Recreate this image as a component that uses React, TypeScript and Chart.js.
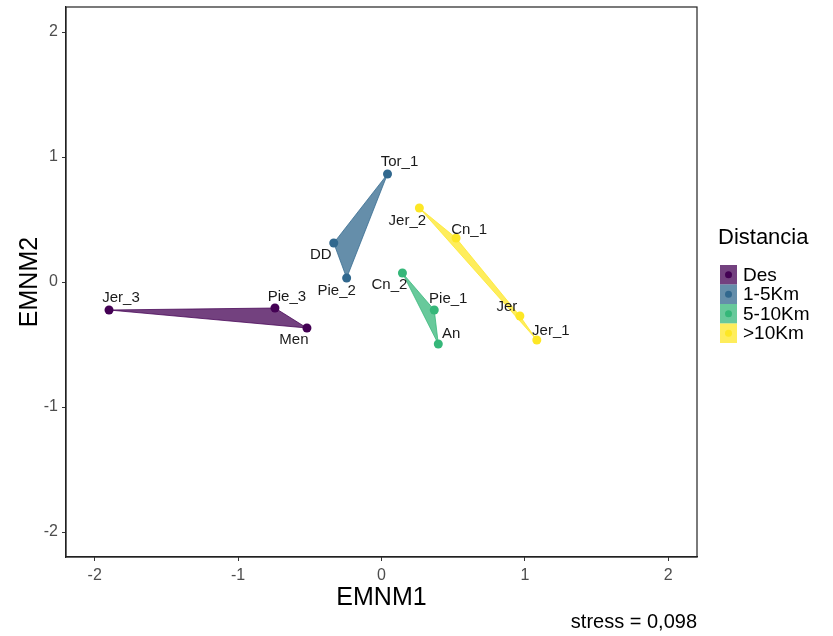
import React, { useEffect, useRef } from 'react';
import { Chart, registerables } from 'chart.js';

Chart.register(...registerables);

// ---- data ----
const groups = ['Des', '1-5Km', '5-10Km', '>10Km'];
const groupColors = ['#440154', '#31688E', '#35B779', '#FDE725'];

const desNames = ['Jer_3', 'Pie_3', 'Men'];
const desX = [-1.9, -0.743, -0.52];
const desY = [-0.224, -0.208, -0.368];

const km1Names = ['Tor_1', 'DD', 'Pie_2'];
const km1X = [0.042, -0.333, -0.243];
const km1Y = [0.864, 0.312, 0.032];

const km5Names = ['Cn_2', 'Pie_1', 'An'];
const km5X = [0.146, 0.368, 0.396];
const km5Y = [0.072, -0.224, -0.496];

const km10Names = ['Jer_2', 'Cn_1', 'Jer', 'Jer_1'];
const km10X = [0.264, 0.52, 0.965, 1.083];
const km10Y = [0.592, 0.352, -0.272, -0.464];

const xTicks = [-2, -1, 0, 1, 2];
const yTicks = [-2, -1, 0, 1, 2];
const xTitle = 'EMNM1';
const yTitle = 'EMNM2';
const legendTitle = 'Distancia';
const stressLabel = 'stress = 0,098';

// ---- style: label offsets in pixels (text centre relative to point) ----
const labelOffsets: Record<string, [number, number]> = {
  Jer_3: [12, -12],
  Pie_3: [12, -11],
  Men: [-13, 12],
  DD: [-13, 12],
  Pie_2: [-10, 13],
  Tor_1: [12, -12],
  Cn_2: [-13, 12],
  Pie_1: [14, -11],
  An: [13, -10],
  Jer_2: [-12, 13],
  Cn_1: [13, -8],
  Jer: [-13, -9],
  Jer_1: [14, -9],
};

const FONT = "'Liberation Sans', Arial, sans-serif";

function rgba(hex: string, a: number) {
  const n = parseInt(hex.slice(1), 16);
  return `rgba(${(n >> 16) & 255},${(n >> 8) & 255},${n & 255},${a})`;
}

const groupData = [
  { names: desNames, xs: desX, ys: desY },
  { names: km1Names, xs: km1X, ys: km1Y },
  { names: km5Names, xs: km5X, ys: km5Y },
  { names: km10Names, xs: km10X, ys: km10Y },
];

const FILL_ALPHA = 0.75;

const decorPlugin = {
  id: 'decor',
  afterDatasetsDraw(chart: any) {
    const ctx = chart.ctx;
    const area = chart.chartArea;
    ctx.save();
    // panel border
    ctx.strokeStyle = '#222';
    ctx.lineWidth = 1.2;
    ctx.strokeRect(area.left, area.top, area.right - area.left, area.bottom - area.top);

    // point labels
    ctx.font = `15px ${FONT}`;
    ctx.fillStyle = '#1a1a1a';
    ctx.textAlign = 'center';
    ctx.textBaseline = 'middle';
    chart.data.datasets.forEach((ds: any, di: number) => {
      if (!ds.labelsList) return;
      const meta = chart.getDatasetMeta(di);
      meta.data.forEach((el: any, i: number) => {
        const name = ds.labelsList[i];
        const off = labelOffsets[name] || [0, -12];
        ctx.fillText(name, el.x + off[0], el.y + off[1]);
      });
    });

    // legend
    const lx = area.right + 23;
    ctx.textAlign = 'left';
    ctx.fillStyle = '#000';
    ctx.font = `22px ${FONT}`;
    ctx.fillText(legendTitle, area.right + 21, 238);
    const keyW = 17;
    const keyH = 19.5;
    const top0 = 265;
    groups.forEach((g, i) => {
      const y = top0 + i * keyH;
      ctx.fillStyle = rgba(groupColors[i], FILL_ALPHA);
      ctx.fillRect(lx, y, keyW, keyH);
      ctx.beginPath();
      ctx.fillStyle = groupColors[i];
      ctx.arc(lx + keyW / 2, y + keyH / 2, 3.5, 0, Math.PI * 2);
      ctx.fill();
      ctx.fillStyle = '#000';
      ctx.font = `19px ${FONT}`;
      ctx.fillText(g, lx + keyW + 6, y + keyH / 2 + 1);
    });

    // stress annotation
    ctx.textAlign = 'right';
    ctx.font = `20px ${FONT}`;
    ctx.fillStyle = '#000';
    ctx.fillText(stressLabel, area.right, 622);
    ctx.restore();
  },
};

export default function App() {
  const ref = useRef<HTMLCanvasElement | null>(null);

  useEffect(() => {
    if (!ref.current) return;
    const pointSets = groupData.map((g, i) => ({
      type: 'scatter' as const,
      label: groups[i],
      labelsList: g.names,
      data: g.xs.map((x, k) => ({ x, y: g.ys[k] })),
      pointRadius: 4.5,
      pointHoverRadius: 4.5,
      backgroundColor: groupColors[i],
      borderColor: groupColors[i],
      borderWidth: 0,
      showLine: false,
    }));
    const hullSets = groupData.map((g, i) => {
      const pts = g.xs.map((x, k) => ({ x, y: g.ys[k] }));
      pts.push({ ...pts[0] });
      return {
        type: 'line' as const,
        label: groups[i] + ' hull',
        data: pts,
        fill: 'shape',
        tension: 0,
        pointRadius: 0,
        pointHoverRadius: 0,
        borderWidth: 1,
        borderColor: rgba(groupColors[i], FILL_ALPHA),
        backgroundColor: rgba(groupColors[i], FILL_ALPHA),
      };
    });

    const chart = new Chart(ref.current, {
      type: 'scatter',
      data: { datasets: [...pointSets, ...hullSets] as any },
      options: {
        animation: false,
        responsive: true,
        maintainAspectRatio: false,
        layout: { padding: { top: 7, right: 136, left: 0, bottom: 0 } },
        plugins: {
          legend: { display: false },
          tooltip: { enabled: false },
        },
        events: [],
        scales: {
          x: {
            type: 'linear',
            min: -2.2,
            max: 2.2,
            afterFit: (s: any) => {
              s.height = 79;
              s.paddingLeft = 0;
              s.paddingRight = 0;
            },
            afterBuildTicks: (s: any) => {
              s.ticks = xTicks.map((v) => ({ value: v }));
            },
            ticks: {
              padding: 5,
              color: '#4d4d4d',
              font: { size: 16, family: FONT },
              callback: (v: any) => String(v),
            },
            grid: {
              display: true,
              drawOnChartArea: false,
              drawTicks: true,
              tickLength: 4,
              tickColor: '#333',
            },
            border: { display: true, color: '#222', width: 1.2 },
            title: {
              display: true,
              text: xTitle,
              color: '#000',
              font: { size: 25, family: FONT },
              padding: { top: 0, bottom: 23 },
            },
          },
          y: {
            type: 'linear',
            min: -2.2,
            max: 2.2,
            afterFit: (s: any) => {
              s.width = 66;
              s.paddingTop = 0;
              s.paddingBottom = 0;
            },
            afterBuildTicks: (s: any) => {
              s.ticks = yTicks.map((v) => ({ value: v }));
            },
            ticks: {
              padding: 4,
              color: '#4d4d4d',
              font: { size: 16, family: FONT },
              callback: (v: any) => String(v),
            },
            grid: {
              display: true,
              drawOnChartArea: false,
              drawTicks: true,
              tickLength: 4,
              tickColor: '#333',
            },
            border: { display: true, color: '#222', width: 1.2 },
            title: {
              display: true,
              text: yTitle,
              color: '#000',
              font: { size: 25, family: FONT },
              padding: { top: 15, bottom: 0 },
            },
          },
        },
      },
      plugins: [decorPlugin],
    });
    return () => chart.destroy();
  }, []);

  return (
    <div style={{ position: 'absolute', left: 0, top: 0, width: 833, height: 636, background: '#fff' }}>
      <canvas ref={ref} style={{ display: 'block' }} />
    </div>
  );
}
